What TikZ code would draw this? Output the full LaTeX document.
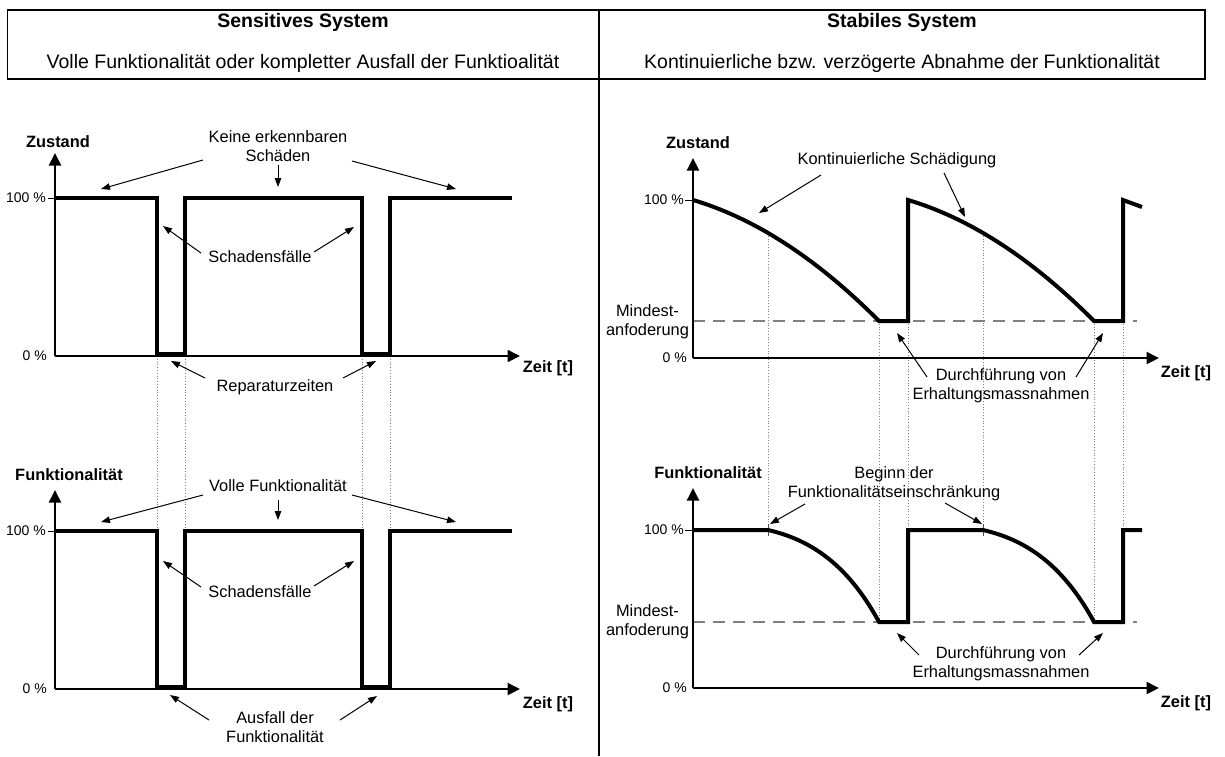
\documentclass[tikz,border=0pt]{standalone}
\usepackage{fontspec}
\setmainfont{Liberation Sans}
\usetikzlibrary{arrows.meta}
\begin{document}
\begin{tikzpicture}[x=1pt,y=-1pt,
  lbl/.style={font=\fontsize{16.4}{19}\selectfont, align=center, inner sep=0pt},
  axlbl/.style={font=\fontsize{16.4}{19}\selectfont\bfseries, inner sep=0pt},
  pct/.style={font=\fontsize{14}{16}\selectfont, inner sep=0pt, anchor=east},
  minlbl/.style={font=\fontsize{16.4}{19}\selectfont, align=center, inner sep=0pt},
  axis/.style={line width=2pt, -{Triangle[length=12.5pt,width=12pt]}},
  sig/.style={line width=4pt, line join=miter},
  ann/.style={line width=1pt, -{Triangle[length=9pt,width=6.5pt]}},
  guide/.style={line width=0.8pt, gray, dotted},
  minline/.style={line width=1.8pt, gray, dash pattern=on 12pt off 8pt},
  tck/.style={line width=1pt},
  ttl/.style={font=\fontsize{19.5}{23}\selectfont\bfseries, anchor=base},
  sub/.style={font=\fontsize{19.5}{23}\selectfont, anchor=base},
]
\useasboundingbox (0,0) rectangle (1225,756);

% ---------- header ----------
\draw[line width=1.3pt] (7.5,10) rectangle (1205,79);
\draw[line width=1.5pt] (599,10) -- (599,756);
\node[ttl] (titleL) at (303,27) {Sensitives System};
\node[sub] (subL) at (303,68) {Volle Funktionalität oder kompletter Ausfall der Funktioalität};
\node[ttl] (titleR) at (902,27) {Stabiles System};
\node[sub] (subR) at (902,68) {Kontinuierliche bzw. verzögerte Abnahme der Funktionalität};

% ---------- guide lines (dotted) ----------
\foreach \gx in {157,185,362,390} \draw[guide] (\gx,356) -- (\gx,689);
\draw[guide] (768,233) -- (768,536);
\draw[guide] (983,233) -- (983,536);
\foreach \gx in {879,908,1094,1123} \draw[guide] (\gx,321) -- (\gx,622);

% ---------- minimum requirement (dashed) ----------
\draw[minline] (693,321) -- (1137,321);
\draw[minline] (693,622) -- (1137,622);

% ================= left top: Zustand =================
\coordinate (oLT) at (55,356);
\coordinate (yLT) at (55,153);
\coordinate (xLT) at (520,356);
\draw[axis] (oLT) -- (yLT);
\draw[axis] (oLT) -- (xLT);
\draw[tck] (48,198) -- (55,198);
\node[axlbl] (zustL) at (58,142) {Zustand};
\node[axlbl] (zeitLT) at (548,368) {Zeit [t]};
\node[pct] (hLT) at (46,198) {100 \%};
\node[pct] (nLT) at (47,356) {0 \%};
\draw[sig] (55,198) -- (157,198) -- (157,354) -- (185,354) -- (185,198)
  -- (362,198) -- (362,354) -- (390,354) -- (390,198) -- (512,198);

\node[lbl] (keine) at (278,146) {Keine erkennbaren\\Schäden};
\coordinate (k1s) at (203,160); \coordinate (k1e) at (101,189);
\coordinate (k2s) at (278,165); \coordinate (k2e) at (278,187);
\coordinate (k3s) at (352,161); \coordinate (k3e) at (456,189);
\draw[ann] (k1s) -- (k1e);
\draw[ann] (k2s) -- (k2e);
\draw[ann] (k3s) -- (k3e);

\node[lbl] (sfT) at (260,257) {Schadensfälle};
\coordinate (s1s) at (201,253); \coordinate (s1e) at (163,226);
\coordinate (s2s) at (314,252); \coordinate (s2e) at (354,227);
\draw[ann] (s1s) -- (s1e);
\draw[ann] (s2s) -- (s2e);

\node[lbl] (rep) at (275,387) {Reparaturzeiten};
\coordinate (r1s) at (205,378); \coordinate (r1e) at (171,361);
\coordinate (r2s) at (343,378); \coordinate (r2e) at (376,361);
\draw[ann] (r1s) -- (r1e);
\draw[ann] (r2s) -- (r2e);

% ================= left bottom: Funktionalitaet =================
\coordinate (oLB) at (55,689);
\coordinate (yLB) at (55,490);
\coordinate (xLB) at (520,689);
\draw[axis] (oLB) -- (yLB);
\draw[axis] (oLB) -- (xLB);
\draw[tck] (48,531) -- (55,531);
\node[axlbl] (funkL) at (69,475) {Funktionalität};
\node[axlbl] (zeitLB) at (548,704) {Zeit [t]};
\node[pct] (hLB) at (46,531) {100 \%};
\node[pct] (nLB) at (47,689) {0 \%};
\draw[sig] (55,531) -- (157,531) -- (157,687) -- (185,687) -- (185,531)
  -- (362,531) -- (362,687) -- (390,687) -- (390,531) -- (512,531);

\node[lbl] (volle) at (278,486) {Volle Funktionalität};
\coordinate (v1s) at (203,495); \coordinate (v1e) at (101,522);
\coordinate (v2s) at (278,500); \coordinate (v2e) at (278,520);
\coordinate (v3s) at (352,495); \coordinate (v3e) at (456,522);
\draw[ann] (v1s) -- (v1e);
\draw[ann] (v2s) -- (v2e);
\draw[ann] (v3s) -- (v3e);

\node[lbl] (sfB) at (260,592) {Schadensfälle};
\coordinate (t1s) at (201,587); \coordinate (t1e) at (163,561);
\coordinate (t2s) at (314,586); \coordinate (t2e) at (354,561);
\draw[ann] (t1s) -- (t1e);
\draw[ann] (t2s) -- (t2e);

\node[lbl] (ausfall) at (275,727) {Ausfall der\\Funktionalität};
\coordinate (a1s) at (209,720); \coordinate (a1e) at (170,695);
\coordinate (a2s) at (340,720); \coordinate (a2e) at (377,696);
\draw[ann] (a1s) -- (a1e);
\draw[ann] (a2s) -- (a2e);

% ================= right top: Zustand =================
\coordinate (oRT) at (693,358);
\coordinate (yRT) at (693,158);
\coordinate (xRT) at (1159,358);
\draw[axis] (oRT) -- (yRT);
\draw[axis] (oRT) -- (xRT);
\draw[tck] (685,200) -- (693,200);
\node[axlbl] (zustR) at (698,143) {Zustand};
\node[axlbl] (zeitRT) at (1186,373) {Zeit [t]};
\node[pct] (hRT) at (684,200) {100 \%};
\node[pct] (nRT) at (687,358) {0 \%};
\node[minlbl] (minT) at (647.5,322) {Mindest-\\anfoderung};
\draw[sig] (693,200) .. controls (755,218.4) and (817,258.7) .. (879,321)
  -- (908,321) -- (908,200) .. controls (970,218.4) and (1032,258.7) .. (1094,321)
  -- (1123,321) -- (1123,200) -- (1142,207);

\node[lbl] (kont) at (897,160) {Kontinuierliche Schädigung};
\coordinate (c1s) at (821,175); \coordinate (c1e) at (759,213);
\coordinate (c2s) at (944,173); \coordinate (c2e) at (965,217);
\draw[ann] (c1s) -- (c1e);
\draw[ann] (c2s) -- (c2e);

\node[lbl] (durchT) at (1001,386) {Durchführung von\\Erhaltungsmassnahmen};
\coordinate (d1s) at (927,377); \coordinate (d1e) at (897,333);
\coordinate (d2s) at (1076,377); \coordinate (d2e) at (1103,333);
\draw[ann] (d1s) -- (d1e);
\draw[ann] (d2s) -- (d2e);

% ================= right bottom: Funktionalitaet =================
\coordinate (oRB) at (693,688);
\coordinate (yRB) at (693,488);
\coordinate (xRB) at (1159,688);
\draw[axis] (oRB) -- (yRB);
\draw[axis] (oRB) -- (xRB);
\draw[tck] (685,530) -- (693,530);
\node[axlbl] (funkR) at (708,473) {Funktionalität};
\node[axlbl] (zeitRB) at (1186,703) {Zeit [t]};
\node[pct] (hRB) at (684,530) {100 \%};
\node[pct] (nRB) at (687,688) {0 \%};
\node[minlbl] (minB) at (647.5,622) {Mindest-\\anfoderung};
\draw[line width=0.8pt, black!70] (768,524) -- (768,536);
\draw[line width=0.8pt, black!70] (983,524) -- (983,536);
\draw[sig] (693,530) -- (768,530) .. controls (807,539) and (846,561) .. (879,622)
  -- (908,622) -- (908,530) -- (983,530) .. controls (1022,539) and (1061,561) .. (1094,622)
  -- (1123,622) -- (1123,530) -- (1142,530);

\node[lbl] (beginn) at (894,484) {Beginn der\\Funktionalitätseinschränkung};
\coordinate (b1s) at (805,504); \coordinate (b1e) at (770,524);
\coordinate (b2s) at (945,503); \coordinate (b2e) at (982,524);
\draw[ann] (b1s) -- (b1e);
\draw[ann] (b2s) -- (b2e);

\node[lbl] (durchB) at (1001,664) {Durchführung von\\Erhaltungsmassnahmen};
\coordinate (e1s) at (919,655); \coordinate (e1e) at (897,633);
\coordinate (e2s) at (1079,655); \coordinate (e2e) at (1103,633);
\draw[ann] (e1s) -- (e1e);
\draw[ann] (e2s) -- (e2e);
\end{tikzpicture}
\end{document}
